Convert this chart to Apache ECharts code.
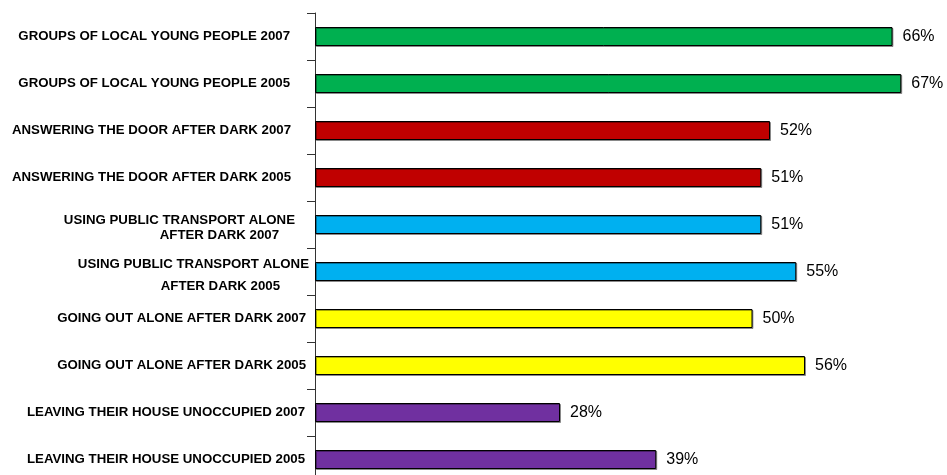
<!DOCTYPE html>
<html>
<head>
<meta charset="utf-8">
<script src="https://cdn.jsdelivr.net/npm/echarts@6/dist/echarts.min.js"></script>
<style>
html,body{margin:0;padding:0;background:#fff;}
#chart{width:947px;height:475px;}
</style>
</head>
<body>
<div id="chart"></div>
<script>
// ---- data ----
var categories = [
  'GROUPS OF LOCAL YOUNG PEOPLE 2007',
  'GROUPS OF LOCAL YOUNG PEOPLE 2005',
  'ANSWERING THE DOOR AFTER DARK 2007',
  'ANSWERING THE DOOR AFTER DARK 2005',
  'USING PUBLIC TRANSPORT ALONE\nAFTER DARK 2007',
  'USING PUBLIC TRANSPORT ALONE\nAFTER DARK 2005',
  'GOING OUT ALONE AFTER DARK 2007',
  'GOING OUT ALONE AFTER DARK 2005',
  'LEAVING THEIR HOUSE UNOCCUPIED 2007',
  'LEAVING THEIR HOUSE UNOCCUPIED 2005'
];
var values = [66, 67, 52, 51, 51, 55, 50, 56, 28, 39];
var groupColors = ['#00B050', '#00B050', '#C00000', '#C00000', '#00B0F0', '#00B0F0', '#FFFF00', '#FFFF00', '#7030A0', '#7030A0'];

// ---- label styling (per category row: right padding / line height per line) ----
var font = '"Liberation Sans", Arial, sans-serif';
var labelPad = [[20], [20], [19], [19], [15, 31], [1, 30], [4], [4], [5], [5]];
var labelLineH = [[16], [16], [16], [16], [21, 9], [30, 15], [16], [16], [16], [16]];

var rich = {};
labelPad.forEach(function (pads, i) {
  pads.forEach(function (p, j) {
    rich['r' + i + '_' + j] = {
      fontFamily: font, fontWeight: 'bold', fontSize: 13.25, color: '#000',
      padding: [0, p, 0, 0], lineHeight: labelLineH[i][j], align: 'right'
    };
  });
});

var chart = echarts.init(document.getElementById('chart'), null, {renderer: 'canvas'});
chart.setOption({
  animation: false,
  backgroundColor: '#fff',
  grid: {left: 315, top: 13, width: 630, height: 470, containLabel: false, outerBoundsMode: 'none'},
  xAxis: {
    type: 'value', min: 0, max: 72, show: false,
    splitLine: {show: false}
  },
  yAxis: {
    type: 'category',
    inverse: true,
    data: categories,
    axisLine: {show: true, lineStyle: {color: '#333', width: 1}},
    axisTick: {show: true, length: 8, inside: false, lineStyle: {color: '#333', width: 1}},
    axisLabel: {
      margin: 5,
      align: 'right',
      formatter: function (val, idx) {
        var lines = val.split('\n');
        return lines.map(function (l, j) { return '{r' + idx + '_' + j + '|' + l + '}'; }).join('\n');
      },
      rich: rich
    },
    splitLine: {show: false}
  },
  series: [{
    type: 'bar',
    barWidth: 19,
    data: values.map(function (v, i) {
      return {value: v, itemStyle: {color: groupColors[i]}};
    }),
    itemStyle: {
      borderColor: '#000', borderWidth: 1,
      shadowColor: 'rgba(0,0,0,0.35)', shadowOffsetX: 1, shadowOffsetY: 1, shadowBlur: 0
    },
    label: {
      show: true, position: 'right', distance: 10,
      formatter: '{c}%',
      fontFamily: font, fontSize: 16, color: '#000'
    }
  }]
});
</script>
</body>
</html>
